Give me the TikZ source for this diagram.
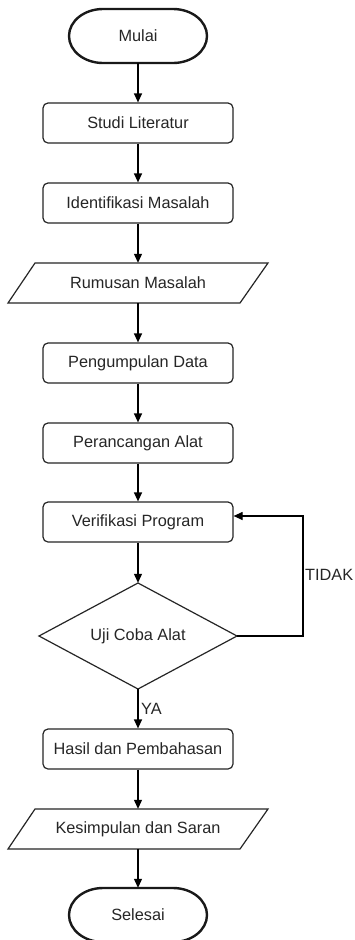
\documentclass[tikz,border=0pt]{standalone}
\usepackage{fontspec}
\setmainfont{Liberation Sans}
\usetikzlibrary{arrows.meta}
\begin{document}
\begin{tikzpicture}[x=1pt,y=-1pt,
  every node/.style={font=\fontsize{16.3}{19}\selectfont, text=black!85},
  procbox/.style={draw=black!85, line width=1.2pt, rounded corners=5pt, minimum width=190pt, minimum height=40pt, inner sep=0pt},
  plainbox/.style={draw=none, minimum width=200pt, minimum height=40pt, inner sep=0pt},
  termbox/.style={draw=none, minimum width=138pt, minimum height=54pt, inner sep=0pt},
  outline/.style={draw=black!85, line width=1.2pt},
  termline/.style={draw=black!90, line width=2.4pt},
  flow/.style={draw=black, line width=1.2pt, -{Triangle[length=9pt,width=8pt]}},
  lbl/.style={inner sep=0pt, anchor=west}
]
\useasboundingbox (0,0) rectangle (355,940);
\fill[white] (0,0) rectangle (355,940);

% Mulai
\node[termbox] (mulai) at (138,36) {Mulai};
\draw[termline] (103,9) -- (173,9) arc[start angle=90, end angle=-90, x radius=34pt, y radius=27pt]
  -- (103,63) arc[start angle=270, end angle=90, x radius=34pt, y radius=27pt] -- cycle;

\node[procbox] (studi) at (138,123) {Studi Literatur};
\node[procbox] (ident) at (138,203) {Identifikasi Masalah};

% Rumusan (parallelogram)
\node[plainbox] (rumus) at (138,283) {Rumusan Masalah};
\draw[outline] (35,263) -- (268,263) -- (240,303) -- (8,303) -- cycle;

\node[procbox] (kumpul) at (138,363) {Pengumpulan Data};
\node[procbox] (rancang) at (138,443) {Perancangan Alat};
\node[procbox] (verif) at (138,522) {Verifikasi Program};

% Diamond
\node[draw=none, minimum width=198pt, minimum height=106pt, inner sep=0pt] (uji) at (138,636) {Uji Coba Alat};
\draw[outline] (138,583) -- (237,636) -- (138,689) -- (39,636) -- cycle;

\node[procbox] (hasil) at (138,749) {Hasil dan Pembahasan};

% Kesimpulan (parallelogram)
\node[plainbox] (simpul) at (138,829) {Kesimpulan dan Saran};
\draw[outline] (35,809) -- (268,809) -- (240,849) -- (8,849) -- cycle;

% Selesai
\node[termbox] (selesai) at (138,915) {Selesai};
\draw[termline] (103,888) -- (173,888) arc[start angle=90, end angle=-90, x radius=34pt, y radius=27pt]
  -- (103,942) arc[start angle=270, end angle=90, x radius=34pt, y radius=27pt] -- cycle;

% connectors
\draw[flow] (mulai.south) -- (studi.north);
\draw[flow] (studi.south) -- (ident.north);
\draw[flow] (ident.south) -- (rumus.north);
\draw[flow] (rumus.south) -- (kumpul.north);
\draw[flow] (kumpul.south) -- (rancang.north);
\draw[flow] (rancang.south) -- (verif.north);
\draw[flow] (verif.south) -- (uji.north);
\draw[flow] (uji.south) -- (hasil.north);
\draw[flow] (hasil.south) -- (simpul.north);
\draw[flow] (simpul.south) -- (selesai.north);

\coordinate (loopA) at (303,636);
\coordinate (loopB) at (303,516);
\coordinate (verifin) at ([yshift=6pt]verif.east);
\draw[flow] (uji.east) -- (loopA) -- (loopB) -- (verifin);

\node[lbl] (tidak) at (305,575) {TIDAK};
\node[lbl] (ya) at (141,709) {YA};
\end{tikzpicture}
\end{document}
